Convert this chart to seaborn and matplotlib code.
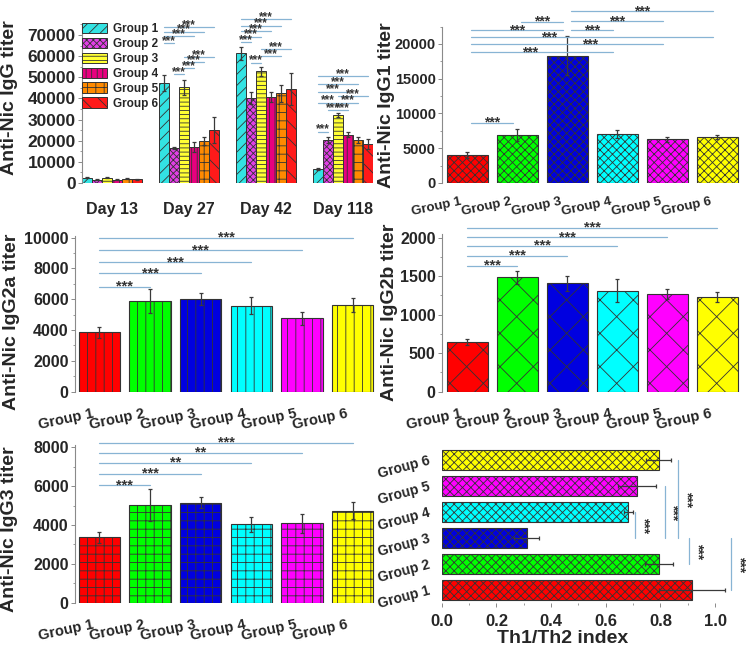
import numpy as np
import pandas as pd
import matplotlib
matplotlib.use("Agg")
import matplotlib.pyplot as plt
import matplotlib.transforms as mtrans
from matplotlib.patches import Patch
from matplotlib.ticker import MultipleLocator, AutoMinorLocator
import seaborn as sns

sns.set_theme(style="white")
plt.rcParams["font.family"] = ["Liberation Sans", "DejaVu Sans"]
plt.rcParams["font.weight"] = "bold"
plt.rcParams["axes.labelweight"] = "bold"
plt.rcParams["hatch.linewidth"] = 0.6

# ---------------- data ----------------
groups = ["Group 1", "Group 2", "Group 3", "Group 4", "Group 5", "Group 6"]
days = ["Day 13", "Day 27", "Day 42", "Day 118"]

# total IgG per group across days
igg_g1 = [2500, 47300, 61300, 6500]
igg_g2 = [1600, 16500, 40300, 20200]
igg_g3 = [2400, 45200, 52800, 32200]
igg_g4 = [1600, 16900, 40700, 22900]
igg_g5 = [2000, 19900, 42400, 20400]
igg_g6 = [1700, 25000, 44300, 18500]
igg_err_g1 = [200, 3800, 3200, 400]
igg_err_g2 = [100, 600, 2800, 1500]
igg_err_g3 = [200, 3700, 2000, 1000]
igg_err_g4 = [100, 2300, 2500, 1300]
igg_err_g5 = [200, 2000, 4000, 1300]
igg_err_g6 = [150, 6000, 7600, 2500]

igg1 = [4000, 6900, 18300, 7050, 6280, 6600]
igg1_err = [400, 900, 2800, 600, 400, 250]
igg2a = [3850, 5890, 6020, 5580, 4760, 5630]
igg2a_err = [350, 800, 400, 550, 400, 450]
igg2b = [640, 1485, 1407, 1312, 1268, 1229]
igg2b_err = [40, 85, 100, 150, 60, 70]
igg3 = [3365, 5030, 5150, 4030, 4085, 4740]
igg3_err = [300, 800, 270, 380, 500, 430]
th_index = [0.915, 0.795, 0.311, 0.683, 0.713, 0.793]
th_err = [0.12, 0.05, 0.045, 0.015, 0.07, 0.045]

# significance: (day, group_a, group_b, level, label)
sig_igg = [
    (1, 0, 1, 66200, "***"), (1, 0, 3, 69500, "***"), (1, 0, 4, 71600, "***"), (1, 0, 5, 73600, "***"),
    (1, 1, 2, 51500, "***"), (1, 2, 3, 54400, "***"), (1, 2, 4, 57200, "***"), (1, 2, 5, 59600, "***"),
    (2, 0, 1, 66700, "***"), (2, 0, 2, 69200, "***"), (2, 0, 3, 71900, "***"), (2, 0, 4, 74400, "***"),
    (2, 0, 5, 77400, "***"), (2, 1, 2, 56900, "***"), (2, 2, 4, 60100, "***"), (2, 2, 5, 63400, "***"),
    (3, 0, 1, 24300, "***"), (3, 1, 2, 34500, "***"), (3, 2, 3, 34500, "***"), (3, 0, 2, 38000, "***"),
    (3, 2, 4, 38000, "***"), (3, 2, 5, 41000, "***"), (3, 0, 3, 43200, "***"), (3, 0, 4, 46800, "***"),
    (3, 0, 5, 50600, "***"),
]
# (group_a, group_b, level, label, text position along the bracket)
sig_igg1 = [(0, 1, 8700, "***", 0.5), (0, 3, 18800, "***", 0.41), (0, 4, 19950, "***", 0.62),
            (0, 5, 20950, "***", 0.32), (0, 2, 22000, "***", 0.5), (1, 2, 23200, "***", 0.5),
            (2, 3, 22000, "***", 0.5), (2, 4, 23300, "***", 0.5), (2, 5, 24700, "***", 0.5)]
sig_igg2a = [(0, 1, 6820, "***", 0.5), (0, 2, 7680, "***", 0.5), (0, 3, 8420, "***", 0.5),
             (0, 4, 9200, "***", 0.5), (0, 5, 10000, "***", 0.5)]
sig_igg2b = [(0, 1, 1636, "***", 0.5), (0, 2, 1766, "***", 0.5), (0, 3, 1896, "***", 0.5),
             (0, 4, 2004, "***", 0.5), (0, 5, 2130, "***", 0.5)]
sig_igg3 = [(0, 1, 6060, "***", 0.5), (0, 2, 6630, "***", 0.5), (0, 3, 7210, "**", 0.5),
            (0, 4, 7725, "**", 0.5), (0, 5, 8240, "***", 0.5)]
sig_th = [(3, 2, 0.707, "***"), (4, 2, 0.815, "***"), (5, 2, 0.866, "***"), (2, 1, 0.905, "***"), (2, 0, 1.06, "***")]

colors_a = ["#33e3e3", "#e23ee6", "#ffff33", "#e8007f", "#ff8a00", "#ff1a1a"]
hatches_a = ["///", "xxxxx", "----", "|||", "++", "\\\\"]
colors = ["#ff0000", "#00ff00", "#0000e0", "#00ffff", "#ff00ff", "#ffff00"]

SIG_C = "#88b4d4"
TXT_C = "#333333"
EDGE = "#333333"
ERR_C = "#3a3a3a"

fig = plt.figure(figsize=(7.5, 6.5), dpi=100)


def style_left(ax, ysize):
    for s in ["top", "right", "bottom"]:
        ax.spines[s].set_visible(False)
    ax.spines["left"].set_color("#8a8a8a")
    ax.spines["left"].set_linewidth(0.8)
    ax.tick_params(axis="y", which="major", left=True, direction="out", length=3,
                   width=0.7, color="#8a8a8a", labelsize=ysize, pad=1.5)
    ax.tick_params(axis="y", which="minor", left=True, direction="out", length=1.5,
                   width=0.6, color="#8a8a8a")
    ax.tick_params(axis="x", which="both", bottom=False)
    ax.grid(False)
    for lab in ax.get_yticklabels():
        lab.set_fontweight("bold")


def hline_sig(ax, x1, x2, y, label, size, shrink=0.0, dy=0.0, frac=0.5):
    a, b = min(x1, x2) + shrink, max(x1, x2) - shrink
    ax.plot([a, b], [y, y], color=SIG_C, lw=0.9, clip_on=False, zorder=5)
    ax.annotate(label, (a + frac * (b - a), y), xytext=(0, dy), textcoords="offset points",
                ha="center", va="center", fontsize=size, color=TXT_C,
                fontweight="bold", annotation_clip=False, zorder=6)


# ---------------- Panel A: IgG ----------------
axA = fig.add_axes([0.1093, 0.7185, 0.388, 0.244])
rows = []
all_g = [igg_g1, igg_g2, igg_g3, igg_g4, igg_g5, igg_g6]
all_e = [igg_err_g1, igg_err_g2, igg_err_g3, igg_err_g4, igg_err_g5, igg_err_g6]
for g, vals, errs in zip(groups, all_g, all_e):
    for d, v, e in zip(days, vals, errs):
        rows.append({"day": d, "group": g, "value": v, "err": e})
dfA = pd.DataFrame(rows)
sns.barplot(data=dfA, x="day", y="value", hue="group", order=days, hue_order=groups,
            palette=colors_a, width=0.78, errorbar=None, saturation=1, legend=False, ax=axA)
centersA = {}
for k, cont in enumerate(axA.containers):
    for p in cont:
        cx = p.get_x() + p.get_width() / 2
        d = int(round(cx))
        centersA[(k, d)] = (cx, p.get_height())
        p.set_hatch(hatches_a[k])
        p.set_edgecolor(EDGE)
        p.set_linewidth(0.7)
for k in range(6):
    for d in range(4):
        cx, h = centersA[(k, d)]
        axA.errorbar(cx, h, yerr=all_e[k][d], fmt="none", ecolor=ERR_C, elinewidth=0.9,
                     capsize=1.5, capthick=0.9, zorder=4)
for d, a, b, y, lab in sig_igg:
    hline_sig(axA, centersA[(a, d)][0], centersA[(b, d)][0], y, lab, 8.5, dy=1.5)
axA.set_xlim(-0.39, 3.39)
axA.set_ylim(0, 75000)
axA.yaxis.set_major_locator(MultipleLocator(10000))
axA.yaxis.set_minor_locator(AutoMinorLocator(2))
axA.set_xlabel("")
axA.set_ylabel("Anti-Nic IgG titer", fontsize=14, fontweight="bold")
axA.yaxis.set_label_coords(-0.22, 0.536)
style_left(axA, 12.5)
axA.tick_params(axis="x", labelsize=11.5, pad=8)
for lab in axA.get_xticklabels():
    lab.set_fontweight("bold")
handles = [Patch(facecolor=c, edgecolor=EDGE, hatch=h, linewidth=0.7, label=g)
           for c, h, g in zip(colors_a, hatches_a, groups)]
axA.legend(handles=handles, loc="upper left", bbox_to_anchor=(0.0, 1.01), frameon=False,
           prop={"size": 8.5, "weight": "bold"}, handlelength=2.1, handleheight=1.0,
           labelspacing=0.22, handletextpad=0.5, borderaxespad=0, borderpad=0)


# ---------------- Panels B-E ----------------
def group_panel(rect, vals, errs, hatch, ylim, ymajor, ylabel, lab_xy, sigs,
                xlim, ysize, xsize, xpad, sig_size, shrink=0.0):
    ax = fig.add_axes(rect)
    df = pd.DataFrame({"group": groups, "value": vals})
    sns.barplot(data=df, x="group", y="value", hue="group", order=groups, hue_order=groups,
                palette=colors, width=0.82, errorbar=None, saturation=1, legend=False, ax=ax)
    centers = {}
    for cont in ax.containers:
        for p in cont:
            if p.get_height() == 0 or np.isnan(p.get_height()):
                continue
            cx = p.get_x() + p.get_width() / 2
            centers[int(round(cx))] = cx
            p.set_hatch(hatch)
            p.set_edgecolor(EDGE)
            p.set_linewidth(0.8)
    xs = [centers[i] for i in range(6)]
    ax.errorbar(xs, vals, yerr=errs, fmt="none", ecolor=ERR_C, elinewidth=0.9,
                capsize=1.5, capthick=0.9, zorder=4)
    for a, b, y, lab, frac in sigs:
        hline_sig(ax, xs[a], xs[b], y, lab, sig_size, shrink=shrink, frac=frac)
    ax.set_xlim(*xlim)
    ax.set_ylim(*ylim)
    ax.yaxis.set_major_locator(MultipleLocator(ymajor))
    ax.yaxis.set_minor_locator(AutoMinorLocator(2))
    ax.set_xlabel("")
    ax.set_ylabel(ylabel, fontsize=14, fontweight="bold")
    ax.yaxis.set_label_coords(*lab_xy)
    style_left(ax, ysize)
    ax.set_xticks(range(6))
    ax.set_xticklabels(groups, rotation=12, ha="right", va="top", rotation_mode="anchor",
                       fontsize=xsize, fontweight="bold")
    ax.tick_params(axis="x", pad=xpad)
    off = mtrans.ScaledTranslation(-0.07, 0, fig.dpi_scale_trans)
    for lab in ax.get_xticklabels():
        lab.set_transform(lab.get_transform() + off)
    return ax


group_panel([0.5893, 0.7185, 0.402, 0.2406], igg1, igg1_err, "xxxx", (0, 22500), 5000,
            "Anti-Nic IgG1 titer", (-0.156, 0.5), sig_igg1, (-0.51, 5.52), 10.5, 9.5, 3, 10,
            shrink=0.08)
group_panel([0.1, 0.3974, 0.4013, 0.2393], igg2a, igg2a_err, "||", (0, 10100), 2000,
            "Anti-Nic IgG2a titer", (-0.183, 0.45), sig_igg2a, (-0.48, 5.46), 11.5, 10.5, 5, 10.5)
group_panel([0.5893, 0.3974, 0.402, 0.2429], igg2b, igg2b_err, "x", (0, 2050), 500,
            "Anti-Nic IgG2b titer", (-0.146, 0.5), sig_igg2b, (-0.51, 5.52), 11.5, 10.5, 5, 10.5)
group_panel([0.1, 0.0728, 0.4013, 0.242], igg3, igg3_err, "++", (0, 8100), 2000,
            "Anti-Nic IgG3 titer", (-0.19, 0.47), sig_igg3, (-0.48, 5.46), 11.5, 10.5, 5, 10.5)

# ---------------- Panel F: Th1/Th2 ----------------
axF = fig.add_axes([0.589, 0.0723, 0.3936, 0.24])
dfF = pd.DataFrame({"group": groups, "value": th_index})
orderF = groups[::-1]
sns.barplot(data=dfF, x="value", y="group", hue="group", order=orderF, hue_order=groups,
            palette=colors, width=0.8, errorbar=None, saturation=1, legend=False,
            orient="h", ax=axF)
ycent = {}
for cont in axF.containers:
    for p in cont:
        if p.get_width() == 0 or np.isnan(p.get_width()):
            continue
        cy = p.get_y() + p.get_height() / 2
        ycent[int(round(cy))] = cy
        p.set_hatch("xxxx")
        p.set_edgecolor(EDGE)
        p.set_linewidth(0.8)
ysF = [ycent[orderF.index(g)] for g in groups]
axF.errorbar(th_index, ysF, xerr=th_err, fmt="none", ecolor=ERR_C, elinewidth=0.9,
             capsize=1.5, capthick=0.9, zorder=4)
for a, b, x, lab in sig_th:
    axF.plot([x, x], [ysF[a], ysF[b]], color=SIG_C, lw=0.9, clip_on=False, zorder=5)
    axF.annotate(lab, (x, (ysF[a] + ysF[b]) / 2), xytext=(6, 0), textcoords="offset points",
                 ha="center", va="center", rotation=-90, fontsize=10, color=TXT_C,
                 fontweight="bold", annotation_clip=False)
axF.set_xlim(0, 1.08)
axF.set_ylim(5.5, -0.5)
for s in ["top", "right", "left", "bottom"]:
    axF.spines[s].set_visible(False)
axF.grid(False)
axF.xaxis.set_major_locator(MultipleLocator(0.2))
axF.xaxis.set_minor_locator(MultipleLocator(0.1))
axF.xaxis.set_major_formatter(matplotlib.ticker.FormatStrFormatter("%.1f"))
axF.tick_params(axis="x", which="major", bottom=True, length=3, width=0.7, color="#8a8a8a",
                labelsize=12, pad=5)
axF.tick_params(axis="x", which="minor", bottom=True, length=1.5, width=0.6, color="#8a8a8a")
axF.tick_params(axis="y", which="both", left=False, pad=3)
for lab in axF.get_xticklabels():
    lab.set_fontweight("bold")
axF.set_yticks(range(6))
axF.set_yticklabels(orderF, rotation=15, ha="right", va="center", rotation_mode="anchor",
                    fontsize=10, fontweight="bold")
axF.set_ylabel("")
axF.set_xlabel("Th1/Th2 index", fontsize=14, fontweight="bold")
axF.xaxis.set_label_coords(0.41, -0.173)

fig.savefig("out.png", dpi=100)
